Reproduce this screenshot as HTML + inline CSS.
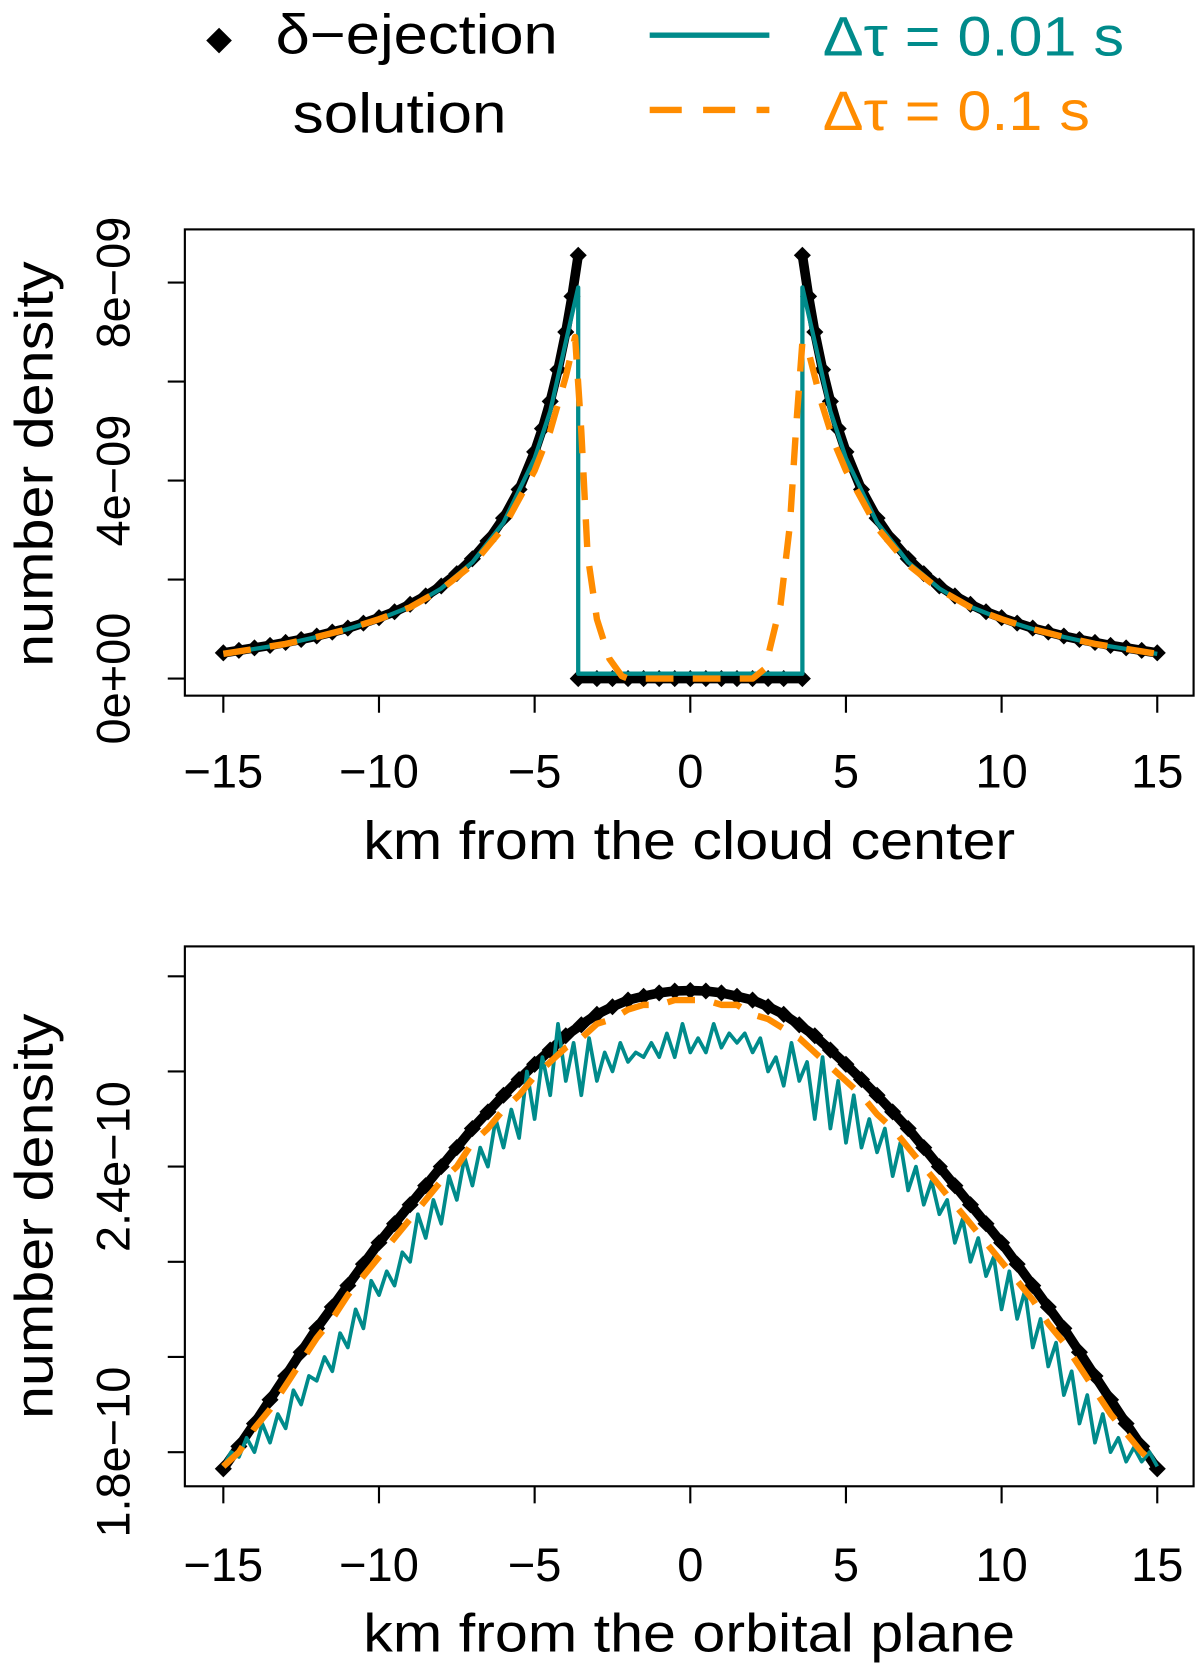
<!DOCTYPE html>
<html><head><meta charset="utf-8"><style>
html,body{margin:0;padding:0;background:#fff}
svg{display:block}
text{font-family:"Liberation Sans","DejaVu Sans",sans-serif;fill:#000}
</style></head><body>
<svg id="fig" width="1200" height="1673" viewBox="0 0 1123 1568" preserveAspectRatio="none" xmlns="http://www.w3.org/2000/svg">
<g>
  <path d="M205 26 L217 38 L205 50 L193 38 Z" fill="#000"/>
  <text x="258" y="50" font-size="52" textLength="264" lengthAdjust="spacingAndGlyphs">δ−ejection</text>
  <text x="274" y="124" font-size="52" textLength="200" lengthAdjust="spacingAndGlyphs">solution</text>
  <line x1="608" y1="33" x2="720" y2="33" stroke="#008b8b" stroke-width="5"/>
  <text x="770" y="52" font-size="52" textLength="282" lengthAdjust="spacingAndGlyphs" style="fill:#008b8b">Δτ = 0.01 s</text>
  <line x1="608" y1="103" x2="720" y2="103" stroke="#ff8c00" stroke-width="6" stroke-dasharray="30,20"/>
  <text x="770" y="122" font-size="52" textLength="250" lengthAdjust="spacingAndGlyphs" style="fill:#ff8c00">Δτ = 0.1 s</text>
</g>
<g id="top"></g>
<g id="bot"></g>
</svg>
<script>
// ---- top panel data (units 1e-9) ----
const topDeltaX = [-15,-14.5,-14,-13.5,-13,-12.5,-12,-11.5,-11,-10.5,-10,-9.5,-9,-8.5,-8,-7.5,-7,-6.5,-6,-5.5,-5,-4.75,-4.5,-4.25,-4,-3.8,-3.6,-3.6,-3,-2.5,-2,-1.5,-1,-0.5,0,0.5,1,1.5,2,2.5,3,3.6,3.6,3.8,4,4.25,4.5,4.75,5,5.5,6,6.5,7,7.5,8,8.5,9,9.5,10,10.5,11,11.5,12,12.5,13,13.5,14,14.5,15];
const topDeltaY = [0.52,0.57,0.62,0.67,0.73,0.79,0.86,0.94,1.02,1.12,1.23,1.35,1.5,1.67,1.87,2.12,2.42,2.78,3.24,3.82,4.58,5.05,5.6,6.24,7.0,7.72,8.55,0,0,0,0,0,0,0,0,0,0,0,0,0,0,0,8.55,7.72,7.0,6.24,5.6,5.05,4.58,3.82,3.24,2.78,2.42,2.12,1.87,1.67,1.5,1.35,1.23,1.12,1.02,0.94,0.86,0.79,0.73,0.67,0.62,0.57,0.52];
const topTealX = [-15,-14,-13,-12,-11,-10,-9,-8,-7,-6,-5,-4.5,-4,-3.6,-3.6,3.6,3.6,4,4.5,5,6,7,8,9,10,11,12,13,14,15];
const topTealY = [0.5,0.6,0.7,0.84,1.0,1.2,1.45,1.82,2.35,3.15,4.45,5.4,6.8,7.9,0.1,0.1,7.9,6.8,5.4,4.45,3.15,2.35,1.82,1.45,1.2,1.0,0.84,0.7,0.6,0.5];
const topOrangeX = [-15,-14,-13,-12,-11,-10,-9,-8,-7,-6,-5,-4.5,-4,-3.7,-3.5,-3.3,-3,-2.6,-2.2,-2,2,2.4,2.9,3.2,3.4,3.6,3.8,4.2,4.6,5,6,7,8,9,10,11,12,13,14,15];
const topOrangeY = [0.5,0.6,0.7,0.84,1.0,1.2,1.44,1.8,2.3,3.05,4.2,5.0,6.1,6.9,5.0,2.5,1.2,0.4,0.05,0,0,0.2,1.5,3.1,5.1,6.8,6.6,5.6,4.8,4.2,3.05,2.3,1.8,1.44,1.2,1.0,0.84,0.7,0.6,0.5];
const topXTicks = [-15,-10,-5,0,5,10,15];
const topYTicks = [0,2,4,6,8];
const topYLabels = {0:"0e+00",4:"4e−09",8:"8e−09"};
// ---- bottom panel data (units 1e-10) ----
const botDeltaY = [1.765,1.812,1.86,1.91,1.96,2.01,2.06,2.105,2.15,2.195,2.24,2.28,2.32,2.36,2.40,2.44,2.48,2.515,2.55,2.583,2.615,2.645,2.675,2.698,2.72,2.736,2.75,2.758,2.765,2.769,2.77,2.769,2.765,2.758,2.75,2.736,2.72,2.698,2.675,2.645,2.615,2.583,2.55,2.515,2.48,2.44,2.40,2.36,2.32,2.28,2.24,2.195,2.15,2.105,2.06,2.01,1.96,1.91,1.86,1.812,1.765];
const botOrangeY = [1.77,1.80,1.85,1.89,1.94,1.99,2.04,2.08,2.13,2.17,2.21,2.25,2.29,2.33,2.37,2.40,2.45,2.48,2.52,2.55,2.59,2.62,2.65,2.67,2.70,2.71,2.73,2.74,2.74,2.75,2.75,2.75,2.74,2.74,2.72,2.71,2.69,2.67,2.64,2.61,2.58,2.55,2.51,2.48,2.44,2.40,2.36,2.32,2.28,2.24,2.20,2.16,2.12,2.07,2.03,1.98,1.93,1.88,1.84,1.80,1.77];
const botTealY = [1.77,1.80,1.79,1.83,1.80,1.86,1.82,1.88,1.85,1.93,1.90,1.96,1.95,2.00,1.97,2.05,2.02,2.10,2.06,2.16,2.13,2.18,2.15,2.22,2.20,2.30,2.25,2.33,2.28,2.38,2.33,2.42,2.36,2.44,2.40,2.50,2.44,2.52,2.46,2.60,2.50,2.63,2.55,2.70,2.58,2.66,2.55,2.67,2.58,2.64,2.60,2.66,2.62,2.64,2.63,2.66,2.63,2.68,2.63,2.70,2.64,2.67,2.64,2.70,2.65,2.68,2.66,2.68,2.64,2.67,2.60,2.63,2.57,2.66,2.58,2.62,2.50,2.63,2.48,2.58,2.45,2.55,2.44,2.50,2.43,2.48,2.38,2.45,2.35,2.40,2.32,2.37,2.30,2.33,2.24,2.29,2.20,2.25,2.17,2.21,2.10,2.18,2.08,2.14,2.02,2.08,1.98,2.03,1.92,1.97,1.86,1.92,1.82,1.88,1.80,1.83,1.78,1.81,1.78,1.80,1.77];
const botXStepDelta = 0.5, botXStepTeal = 0.25;
const botYTicks = [1.8,2.0,2.2,2.4,2.6,2.8];
const botYLabels = {"1.8":"1.8e−10","2.4":"2.4e−10"};

const NS="http://www.w3.org/2000/svg";
function mk(parent,tag,attrs){const e=document.createElementNS(NS,tag);for(const k in attrs)e.setAttribute(k,attrs[k]);parent.appendChild(e);return e;}
const X0=209,X1=1083,BL=173,BR=1117;
const sx=v=>X0+(v+15)*(X1-X0)/30;

function panel(g,top,bot,sy,yTicks,yLabels,xTitle,tickY,titleY,labelCY,prefix){
  const box=mk(g,'rect',{x:BL,y:top,width:BR-BL,height:bot-top,fill:'none',stroke:'#000','stroke-width':2});
  
  
  topXTicks.forEach(t=>{
    const l=mk(g,'line',{x1:sx(t),x2:sx(t),y1:bot,y2:bot+16,stroke:'#000','stroke-width':2});
    
    
    const tx=mk(g,'text',{x:sx(t),y:tickY,'font-size':44,'text-anchor':'middle'});
    tx.textContent=t<0?'−'+(-t):String(t);
    
    
  });
  yTicks.forEach(t=>{
    const y=sy(t);
    const l=mk(g,'line',{x1:BL-16,x2:BL,y1:y,y2:y,stroke:'#000','stroke-width':2});
    
    
    const lab=yLabels[String(t)];
    if(lab){
      const tx=mk(g,'text',{x:0,y:0,'font-size':44,'text-anchor':'middle',transform:`translate(121,${y}) rotate(-90)`});
      tx.textContent=lab;
      
      
    }
  });
  const xt=mk(g,'text',{x:340,y:titleY,'font-size':50,textLength:610,lengthAdjust:'spacingAndGlyphs'});
  xt.textContent=xTitle;
  
  
  const yt=mk(g,'text',{x:-190,y:0,'font-size':50,textLength:380,lengthAdjust:'spacingAndGlyphs',transform:`translate(49,${labelCY}) rotate(-90)`});
  yt.textContent='number density';
  
  
}
function line(g,xs,ys,sy,color,w,dash,name){
  const pts=xs.map((x,i)=>sx(x).toFixed(1)+','+sy(ys[i]).toFixed(1)).join(' ');
  const a={points:pts,fill:'none',stroke:color,'stroke-width':w,'stroke-linejoin':'round'};
  if(dash)a['stroke-dasharray']=dash;
  const p=mk(g,'polyline',a);
  
  
}
function diamonds(g,xs,ys,sy,name,r){
  // connect consecutive diamonds (dense markers) but not across jumps
  let segX=[xs[0]],segY=[ys[0]];
  for(let i=1;i<=xs.length;i++){
    if(i===xs.length || Math.abs(sy(ys[i])-sy(ys[i-1]))>60){
      if(segX.length>1) line(g,segX,segY,sy,'#000',9,null,name+'-line');
      if(i<xs.length){segX=[xs[i]];segY=[ys[i]];}
    } else {segX.push(xs[i]);segY.push(ys[i]);}
  }
  xs.forEach((x,i)=>{
    const cx=sx(x),cy=sy(ys[i]);
    const d=mk(g,'path',{d:`M${cx} ${cy-r} L${cx+r} ${cy} L${cx} ${cy+r} L${cx-r} ${cy} Z`,fill:'#000'});
    
    
  });
}
// top
const gt=document.getElementById('top');


const syT=v=>636-v*46.4;
panel(gt,215,652,syT,topYTicks,topYLabels,'km from the cloud center',738,805,435,'top');
diamonds(gt,topDeltaX,topDeltaY,syT,'top-delta-solution',8);
line(gt,topTealX,topTealY,syT,'#008b8b',4,null,'top-teal-series');
line(gt,topOrangeX,topOrangeY,syT,'#ff8c00',6,'26,18','top-orange-series');
// bottom
const gb=document.getElementById('bot');


const syB=v=>1361-(v-1.8)*446;
panel(gb,887,1393,syB,botYTicks,botYLabels,'km from the orbital plane',1482,1548,1140,'bottom');
const dX=botDeltaY.map((_,i)=>-15+i*botXStepDelta);
const tX=botTealY.map((_,i)=>-15+i*botXStepTeal);
diamonds(gb,dX,botDeltaY,syB,'bottom-delta-solution',8);
line(gb,tX,botTealY,syB,'#008b8b',3.5,null,'bottom-teal-series');
line(gb,dX,botOrangeY,syB,'#ff8c00',6,'26,18','bottom-orange-series');
</script>
</body></html>
